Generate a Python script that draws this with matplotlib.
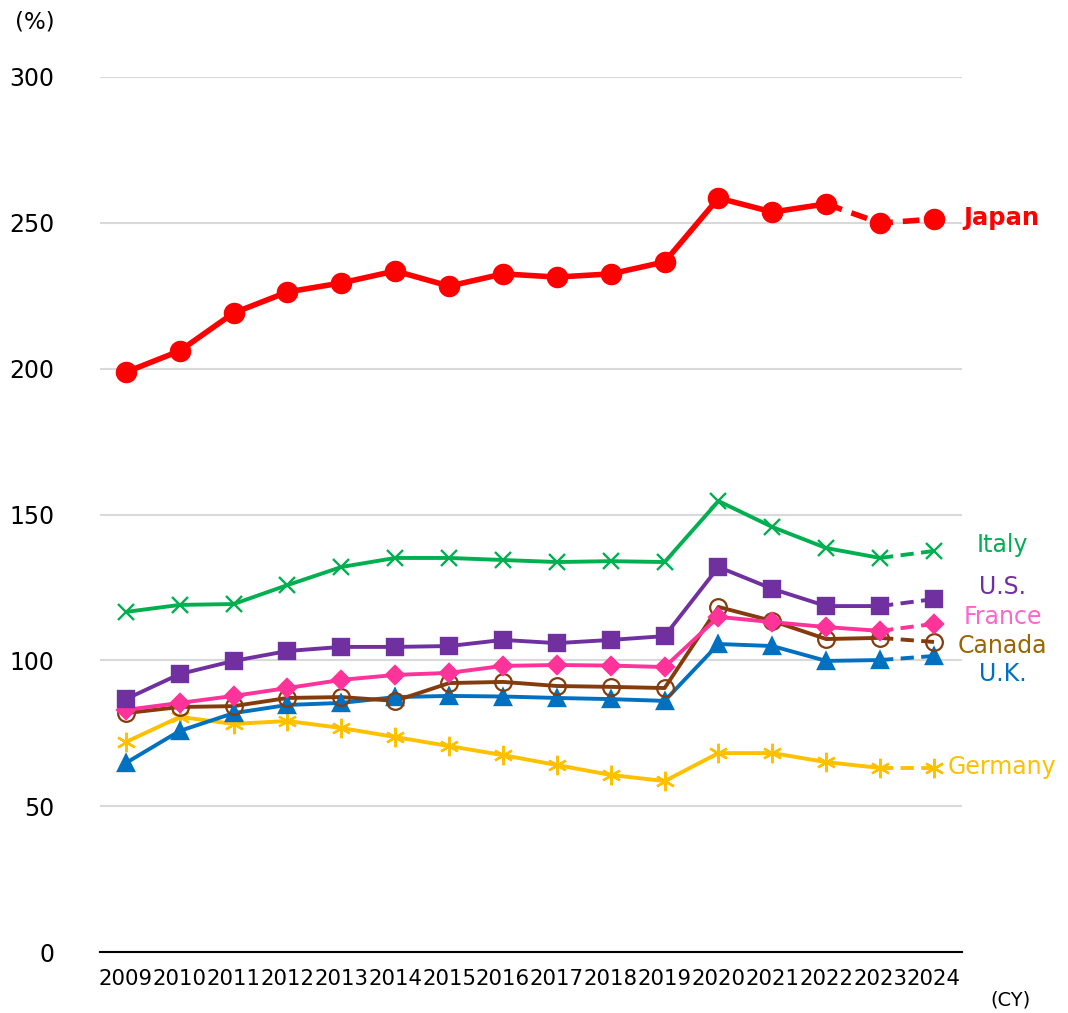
import numpy as np
from matplotlib import pyplot as plt

years = list(range(2009, 2025))

japan = [198.8, 206.1, 219.1, 226.3, 229.4, 233.5, 228.3, 232.5, 231.4, 232.5, 236.6, 258.5, 253.7, 256.5, 249.9, 251.3]
italy = [116.6, 119.0, 119.3, 125.8, 132.0, 135.1, 135.1, 134.4, 133.7, 134.0, 133.7, 154.6, 145.7, 138.5, 135.1, 137.5]
us = [86.7, 95.3, 99.8, 103.2, 104.6, 104.6, 104.9, 107.0, 105.9, 107.0, 108.3, 132.0, 124.5, 118.6, 118.6, 121.0]
france = [83.0, 85.4, 87.8, 90.5, 93.3, 95.0, 95.7, 98.1, 98.4, 98.2, 97.7, 114.9, 113.1, 111.4, 110.1, 112.5]
canada = [81.9, 84.0, 84.3, 87.1, 87.4, 86.1, 92.2, 92.6, 91.2, 90.9, 90.5, 118.3, 113.5, 107.3, 107.7, 106.3]
uk = [64.8, 75.8, 81.9, 84.7, 85.4, 87.4, 87.8, 87.6, 87.1, 86.7, 86.1, 105.6, 104.9, 99.8, 100.1, 101.5]
germany = [72.0, 80.6, 78.2, 79.2, 76.8, 73.7, 70.6, 67.5, 64.1, 60.7, 58.6, 68.2, 68.2, 65.1, 63.1, 63.1]

# name, values, line colour, label colour, marker, marker size, fill, line width, first dashed index, label dy
series = [
	("Germany", germany, "#FFC000", "#FFC000", (6, 2, 0), 14, True, 2.8, 14, 0.3),
	("U.K.", uk, "#0070C0", "#0070C0", "^", 11, True, 2.8, 14, -6.2),
	("Canada", canada, "#843C0C", "#996600", "o", 12, False, 2.8, 14, -1.4),
	("France", france, "#FF3399", "#FF66CC", "D", 9, True, 2.8, 14, 2.4),
	("U.S.", us, "#7030A0", "#7030A0", "s", 11, True, 2.8, 14, 4.1),
	("Italy", italy, "#00B050", "#00B050", "x", 11, True, 2.8, 14, 2.0),
]


def main():

	plt.rcParams['font.family'] = ['DejaVu Sans']

	fig = plt.figure(figsize=(10.68, 10.13), dpi=100)
	ax = fig.add_axes([100 / 1068, 61 / 1013, 862 / 1068, 875 / 1013])

	for name, vals, col, lcol, mk, ms, filled, lw, k, dy in series:
		ax.plot(years[:k + 1], vals[:k + 1], color=col, lw=lw, solid_capstyle='round', zorder=3)
		ax.plot(years[k:], vals[k:], color=col, lw=lw, dashes=(3.4, 1.9), zorder=3)
		ax.plot(years, vals, linestyle='none', marker=mk, markersize=ms,
			markerfacecolor=col if filled else 'none', markeredgecolor=col,
			markeredgewidth=1.7 if filled else 1.6, zorder=4, clip_on=False)
		ax.text(2025.27, vals[-1] + dy, name, color=lcol, fontsize=17, ha='center', va='center')

	# Japan on top, dashed from 2022
	ax.plot(years[:14], japan[:14], color="#FF0000", lw=4.0, zorder=5)
	ax.plot(years[13:], japan[13:], color="#FF0000", lw=4.0, dashes=(3.0, 1.8), zorder=5)
	ax.plot(years, japan, linestyle='none', marker='o', markersize=14.5, color="#FF0000", zorder=6, clip_on=False)
	ax.text(2024.55, japan[-1] + 0.4, "Japan", color="#FF0000", fontsize=17.5, fontweight='bold', ha='left', va='center')

	ax.set_xlim(2008.52, 2024.52)
	ax.set_ylim(0, 300)
	ax.set_yticks(np.arange(0, 301, 50))
	ax.set_xticks(years)
	ax.set_xticklabels([str(y) for y in years], fontsize=15.3)
	ax.tick_params(axis='y', length=0, pad=33, labelsize=17)
	ax.tick_params(axis='x', length=0, pad=12)

	ax.grid(axis='y', color='#D9D9D9', lw=1.5)
	ax.set_axisbelow(True)
	for s in ['top', 'right', 'left']:
		ax.spines[s].set_visible(False)
	ax.spines['bottom'].set_color('#000000')
	ax.spines['bottom'].set_linewidth(1.5)

	fig.text(15 / 1068, 1 - 22 / 1013, "(%)", fontsize=16.5, ha='left', va='center')
	fig.text(1010 / 1068, 1 - 1000 / 1013, "(CY)", fontsize=14, ha='center', va='center')

	plt.savefig('out.png', dpi=100)


if __name__ == '__main__':
	main()
